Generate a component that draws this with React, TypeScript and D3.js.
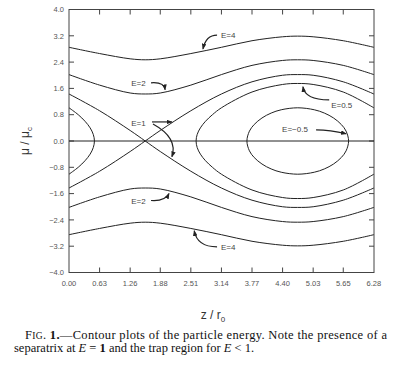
import React, { useEffect, useRef } from 'react';
import * as d3 from 'd3';

// axis ticks
const zTicks = [0, 0.63, 1.26, 1.88, 2.51, 3.14, 3.77, 4.40, 5.03, 5.65, 6.28];
const muTicks = [-4.0, -3.2, -2.4, -1.6, -0.8, 0.0, 0.8, 1.6, 2.4, 3.2, 4.0];

// contour lines (z / r0 -> mu / mu_c)
const zGrid = [0, 0.63, 1.26, 1.57, 1.88, 2.51, 3.14, 3.77, 4.40, 4.71, 5.03, 5.65, 6.28];
const e4Top = [2.85, 2.66, 2.50, 2.47, 2.50, 2.66, 2.85, 3.05, 3.17, 3.19, 3.17, 3.05, 2.85];
const e4Bottom = [-2.85, -2.66, -2.50, -2.47, -2.50, -2.66, -2.85, -3.05, -3.17, -3.19, -3.17, -3.05, -2.85];
const e2Top = [2.02, 1.70, 1.46, 1.43, 1.46, 1.70, 2.02, 2.30, 2.45, 2.47, 2.45, 2.30, 2.02];
const e2Bottom = [-2.02, -1.70, -1.46, -1.43, -1.46, -1.70, -2.02, -2.30, -2.45, -2.47, -2.45, -2.30, -2.02];
// separatrix E=1, two branches crossing at z = pi/2
const e1Down = [1.43, 0.92, 0.32, 0, -0.32, -0.92, -1.43, -1.80, -2.00, -2.02, -2.00, -1.80, -1.43];
const e1Up = [-1.43, -0.92, -0.32, 0, 0.32, 0.92, 1.43, 1.80, 2.00, 2.02, 2.00, 1.80, 1.43];

// E=0.5 : small lobe at the left edge and open curve on the right
const e05LeftZ = [0, 0.19, 0.33, 0.435, 0.50, 0.524, 0.50, 0.435, 0.33, 0.19, 0];
const e05LeftMu = [1.01, 0.8, 0.6, 0.4, 0.2, 0, -0.2, -0.4, -0.6, -0.8, -1.01];
const e05RightZ = [6.28, 5.65, 5.03, 4.71, 4.40, 3.77, 3.14, 2.955, 2.812, 2.707, 2.641, 2.618,
  2.641, 2.707, 2.812, 2.955, 3.14, 3.77, 4.40, 4.71, 5.03, 5.65, 6.28];
const e05RightMu = [1.01, 1.49, 1.72, 1.75, 1.72, 1.49, 1.01, 0.8, 0.6, 0.4, 0.2, 0,
  -0.2, -0.4, -0.6, -0.8, -1.01, -1.49, -1.72, -1.75, -1.72, -1.49, -1.01];

// E=-0.5 : closed trap orbit
const eM05Z = [3.665, 3.717, 3.814, 3.975, 4.165, 4.372, 4.712, 5.053, 5.260, 5.450, 5.611, 5.708,
  5.760, 5.708, 5.611, 5.450, 5.260, 5.053, 4.712, 4.372, 4.165, 3.975, 3.814, 3.717];
const eM05Mu = [0, 0.3, 0.5, 0.7, 0.85, 0.95, 1.01, 0.95, 0.85, 0.7, 0.5, 0.3,
  0, -0.3, -0.5, -0.7, -0.85, -0.95, -1.01, -0.95, -0.85, -0.7, -0.5, -0.3];

// labels: text, text anchor point, arrow start / control / end (data units)
const labelText = ['E=4', 'E=2', 'E=1', 'E=1', 'E=2', 'E=4', 'E=0.5', 'E=\u22120.5'];
const labelPos = [[3.13, 3.14], [1.28, 1.68], [1.28, 0.46], [1.28, 0.46], [1.28, -1.91], [3.13, -3.31], [5.40, 1.01], [4.39, 0.28]];
const arrowStart = [[3.05, 3.22], [1.69, 1.77], [1.71, 0.58], [1.73, 0.52], [1.69, -1.81], [3.05, -3.22], [5.36, 1.25], [5.09, 0.34]];
const arrowCtrl = [[2.82, 3.22], [1.96, 1.80], [1.92, 0.58], [2.25, 0.10], [1.98, -1.84], [2.64, -3.22], [4.86, 1.25], [5.38, 0.34]];
const arrowEnd = [[2.76, 2.80], [1.98, 1.56], [2.12, 0.58], [2.12, -0.48], [2.06, -1.60], [2.58, -2.73], [4.82, 1.65], [5.71, 0.22]];

const W = 402;
const H = 368;

const App = () => {
  const ref = useRef<SVGSVGElement>(null);

  useEffect(() => {
    document.body.style.margin = '0';
    const svg = d3.select(ref.current);
    svg.selectAll('*').remove();

    const x = d3.scaleLinear().domain([0, 6.2832]).range([69, 374]);
    const y = d3.scaleLinear().domain([-4, 4]).range([272.5, 9.5]);
    const ink = '#222';
    const tickFont = '"Liberation Sans", Arial, sans-serif';

    svg.append('defs').append('marker')
      .attr('id', 'head')
      .attr('viewBox', '0 0 8 6')
      .attr('refX', 7)
      .attr('refY', 3)
      .attr('markerWidth', 6)
      .attr('markerHeight', 4.5)
      .attr('markerUnits', 'userSpaceOnUse')
      .attr('orient', 'auto')
      .append('path')
      .attr('d', 'M0,0 L8,3 L0,6 Z')
      .attr('fill', ink);

    // frame
    svg.append('rect')
      .attr('x', x(0)).attr('y', y(4))
      .attr('width', x(6.2832) - x(0)).attr('height', y(-4) - y(4))
      .attr('fill', 'none').attr('stroke', '#444').attr('stroke-width', 1);

    // inward ticks on all four sides
    const tk = 5;
    const g = svg.append('g').attr('stroke', '#444').attr('stroke-width', 1);
    zTicks.slice(1, -1).forEach(t => {
      g.append('line').attr('x1', x(t)).attr('x2', x(t)).attr('y1', y(-4)).attr('y2', y(-4) - tk);
      g.append('line').attr('x1', x(t)).attr('x2', x(t)).attr('y1', y(4)).attr('y2', y(4) + tk);
    });
    muTicks.slice(1, -1).forEach(t => {
      g.append('line').attr('x1', x(0)).attr('x2', x(0) + tk).attr('y1', y(t)).attr('y2', y(t));
      g.append('line').attr('x1', x(6.2832)).attr('x2', x(6.2832) - tk).attr('y1', y(t)).attr('y2', y(t));
    });

    svg.append('g').selectAll('text').data(zTicks).enter().append('text')
      .attr('x', d => x(d)).attr('y', y(-4) + 13)
      .attr('text-anchor', 'middle')
      .style('font-family', tickFont).style('font-size', '7.5px').attr('fill', '#555')
      .text(d => d.toFixed(2));

    svg.append('g').selectAll('text').data(muTicks).enter().append('text')
      .attr('x', x(0) - 5).attr('y', d => y(d) + 2.7)
      .attr('text-anchor', 'end')
      .style('font-family', tickFont).style('font-size', '7.5px').attr('fill', '#555')
      .text(d => (d < 0 ? '\u2212' : '') + Math.abs(d).toFixed(1));

    // contours
    const smooth = d3.line<number[]>().x(d => x(d[0])).y(d => y(d[1])).curve(d3.curveCatmullRom.alpha(0.5));
    const closed = d3.line<number[]>().x(d => x(d[0])).y(d => y(d[1])).curve(d3.curveCatmullRomClosed.alpha(0.5));
    const onGrid = (mu: number[]) => zGrid.map((z, i) => [z, mu[i]]);
    const zip = (zs: number[], mus: number[]) => zs.map((z, i) => [z, mus[i]]);

    const curves = [
      smooth(onGrid(e4Top)), smooth(onGrid(e4Bottom)),
      smooth(onGrid(e2Top)), smooth(onGrid(e2Bottom)),
      smooth(onGrid(e1Down)), smooth(onGrid(e1Up)),
      smooth(zip(e05LeftZ, e05LeftMu)), smooth(zip(e05RightZ, e05RightMu)),
      closed(zip(eM05Z, eM05Mu)),
    ];
    svg.append('g').selectAll('path').data(curves).enter().append('path')
      .attr('d', d => d as string)
      .attr('fill', 'none').attr('stroke', ink).attr('stroke-width', 1);

    // mu = 0 line
    svg.append('line')
      .attr('x1', x(0)).attr('x2', x(6.2832)).attr('y1', y(0)).attr('y2', y(0))
      .attr('stroke', ink).attr('stroke-width', 1);

    // labels with arrows
    const lab = svg.append('g');
    labelText.forEach((t, i) => {
      if (i !== 3) {
        lab.append('text')
          .attr('x', x(labelPos[i][0])).attr('y', y(labelPos[i][1]))
          .style('font-family', tickFont).style('font-size', '8px').attr('fill', '#444')
          .text(t);
      }
      const p = d3.path();
      p.moveTo(x(arrowStart[i][0]), y(arrowStart[i][1]));
      p.quadraticCurveTo(x(arrowCtrl[i][0]), y(arrowCtrl[i][1]), x(arrowEnd[i][0]), y(arrowEnd[i][1]));
      lab.append('path').attr('d', p.toString())
        .attr('fill', 'none').attr('stroke', ink).attr('stroke-width', 1.2)
        .attr('marker-end', 'url(#head)');
    });

    // axis titles
    const yt = svg.append('text')
      .attr('transform', `translate(29,${y(0)}) rotate(-90)`)
      .attr('text-anchor', 'middle')
      .style('font-family', tickFont).style('font-size', '12px').attr('fill', '#333');
    yt.append('tspan').text('\u03bc / \u03bc');
    yt.append('tspan').attr('dy', 3).style('font-size', '8px').text('c');

    const xt = svg.append('text')
      .attr('x', 213).attr('y', 319)
      .attr('text-anchor', 'middle')
      .style('font-family', tickFont).style('font-size', '12px').attr('fill', '#333');
    xt.append('tspan').text('z / r');
    xt.append('tspan').attr('dy', 3).style('font-size', '8px').text('0');

    // caption
    const serif = '"Liberation Serif", "Times New Roman", serif';
    const c1 = svg.append('text').attr('x', 25).attr('y', 339)
      .attr('textLength', 362).attr('lengthAdjust', 'spacing')
      .style('font-family', serif).style('font-size', '12.5px').attr('fill', '#111');
    c1.append('tspan').text('F');
    c1.append('tspan').style('font-size', '9.5px').text('IG');
    c1.append('tspan').text('. ');
    c1.append('tspan').style('font-weight', 'bold').text('1.');
    c1.append('tspan').text('\u2014Contour plots of the particle energy. Note the presence of a');

    const c2 = svg.append('text').attr('x', 14).attr('y', 352)
      .style('font-family', serif).style('font-size', '12.5px').attr('fill', '#111');
    c2.append('tspan').text('separatrix at ');
    c2.append('tspan').style('font-style', 'italic').text('E');
    c2.append('tspan').text(' = ');
    c2.append('tspan').style('font-weight', 'bold').text('1');
    c2.append('tspan').text(' and the trap region for ');
    c2.append('tspan').style('font-style', 'italic').text('E');
    c2.append('tspan').text(' < 1.');
  }, []);

  return <svg ref={ref} width={W} height={H} style={{ display: 'block', background: '#fff' }} />;
};

export default App;
